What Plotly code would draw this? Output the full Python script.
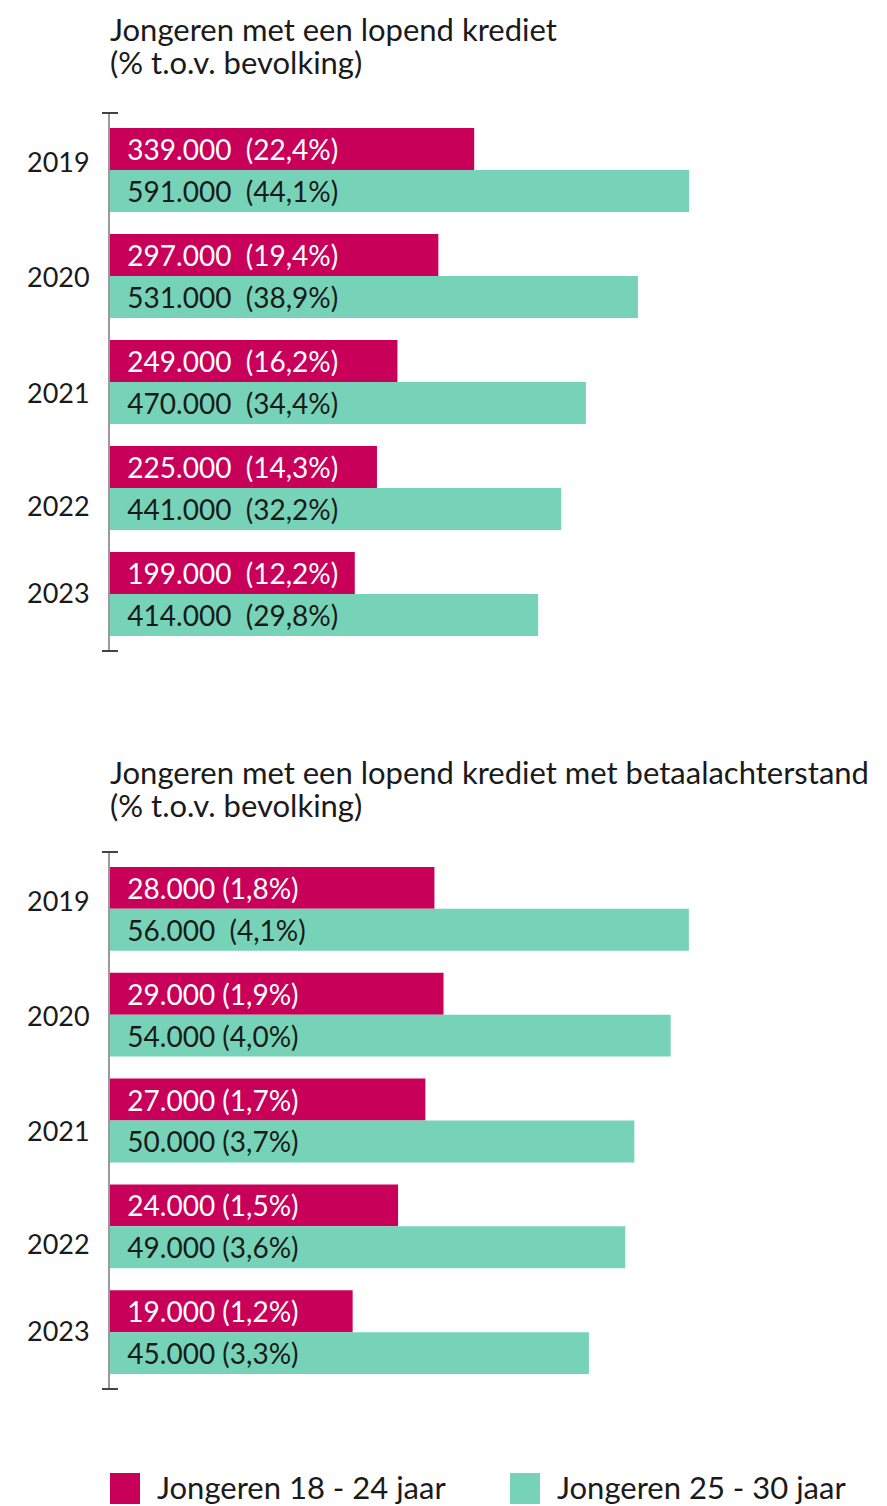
import plotly.graph_objects as go

# ---------------- data ----------------
YEARS = ["2019", "2020", "2021", "2022", "2023"]
SERIES_NAMES = ["Jongeren 18 - 24 jaar", "Jongeren 25 - 30 jaar"]

CREDIT_18_24 = [339000, 297000, 249000, 225000, 199000]
CREDIT_18_24_PCT = [22.4, 19.4, 16.2, 14.3, 12.2]
CREDIT_25_30 = [591000, 531000, 470000, 441000, 414000]
CREDIT_25_30_PCT = [44.1, 38.9, 34.4, 32.2, 29.8]

ARREARS_18_24 = [28000, 29000, 27000, 24000, 19000]
ARREARS_18_24_PCT = [1.8, 1.9, 1.7, 1.5, 1.2]
ARREARS_25_30 = [56000, 54000, 50000, 49000, 45000]
ARREARS_25_30_PCT = [4.1, 4.0, 3.7, 3.6, 3.3]

TITLE_1 = ["Jongeren met een lopend krediet", "(% t.o.v. bevolking)"]
TITLE_2 = ["Jongeren met een lopend krediet met betaalachterstand", "(% t.o.v. bevolking)"]

# ---------------- style ----------------
W, H = 887, 1506
PINK = "#C8005A"
TEAL = "#76D3B7"
FONT = "Lato"
TXT = "#1a1a1a"
AXIS_START_1, AXIS_END_1 = -88000, 823000
AXIS_START_2, AXIS_END_2 = -7700, 77800
PAD = "\u00a0\u00a0"
YEAR_LABEL_SHIFT = [8, -1, -10, -17, 2]


def fmt(v, p, sep):
    return PAD + f"{v:,}".replace(",", ".") + sep + f"({p:.1f}%)".replace(".", ",")


def px_y(py):
    return 1 - py / H


fig = go.Figure()

panels = [
    ("x", "y", AXIS_START_1,
     [(CREDIT_18_24, CREDIT_18_24_PCT, PINK, "white", ["\u00a0\u00a0"] * 5),
      (CREDIT_25_30, CREDIT_25_30_PCT, TEAL, TXT, ["\u00a0\u00a0"] * 5)]),
    ("x2", "y2", AXIS_START_2,
     [(ARREARS_18_24, ARREARS_18_24_PCT, PINK, "white", ["\u00a0"] * 5),
      (ARREARS_25_30, ARREARS_25_30_PCT, TEAL, TXT, ["\u00a0\u00a0"] + ["\u00a0"] * 4)]),
]

for xa, ya, base, series in panels:
    for i, (vals, pcts, color, tcol, seps) in enumerate(series):
        fig.add_trace(go.Bar(
            y=YEARS, x=[v - base for v in vals], base=base,
            orientation="h", name=SERIES_NAMES[i], showlegend=False,
            marker=dict(color=color, line=dict(width=0)),
            text=[fmt(v, p, s) for v, p, s in zip(vals, pcts, seps)],
            textposition="inside", insidetextanchor="start",
            constraintext="none", textangle=0,
            insidetextfont=dict(family=FONT, size=28, color=tcol),
            xaxis=xa, yaxis=ya, hoverinfo="skip",
        ))

xdom = [110 / W, 1.0]
common_x = dict(domain=xdom, showgrid=False, zeroline=False, showticklabels=False,
                ticks="", showline=False, fixedrange=True)
common_y = dict(type="category", showgrid=False, zeroline=False, ticks="",
                showline=True, linecolor="#9a9a9a", linewidth=2,
                showticklabels=False, range=[4.5375, -0.5375], fixedrange=True)

Y1_DOM = [px_y(651), px_y(113)]
Y2_DOM = [px_y(1389), px_y(852)]

fig.update_layout(
    width=W, height=H,
    margin=dict(l=0, r=0, t=0, b=0),
    paper_bgcolor="white", plot_bgcolor="white",
    barmode="group", bargap=0.2075, bargroupgap=0,
    showlegend=False,
    xaxis=dict(common_x, anchor="y", range=[AXIS_START_1, AXIS_END_1]),
    yaxis=dict(common_y, anchor="x", domain=Y1_DOM),
    xaxis2=dict(common_x, anchor="y2", range=[AXIS_START_2, AXIS_END_2]),
    yaxis2=dict(common_y, anchor="x2", domain=Y2_DOM),
)

# year labels (category axis: annotation positions are category indices)
for yref in ("y", "y2"):
    for idx, (yr, shift) in enumerate(zip(YEARS, YEAR_LABEL_SHIFT)):
        fig.add_annotation(text=yr, xref="paper", yref=yref, x=92 / W, y=idx,
                           xanchor="right", yanchor="middle", yshift=shift,
                           showarrow=False,
                           font=dict(family=FONT, size=27, color=TXT))

# axis end caps
for dom in (Y1_DOM, Y2_DOM):
    for yy in dom:
        fig.add_shape(type="line", xref="paper", yref="paper",
                      x0=102 / W, x1=118 / W, y0=yy, y1=yy,
                      line=dict(color="#444444", width=2))

# titles
for lines, mids in [(TITLE_1, (29, 62)), (TITLE_2, (772, 805))]:
    for line, mid in zip(lines, mids):
        fig.add_annotation(text=line, xref="paper", yref="paper", x=108 / W, y=px_y(mid),
                           xanchor="left", yanchor="middle", align="left", showarrow=False,
                           font=dict(family=FONT, size=31, color=TXT))

# legend
for name, color, x0 in [(SERIES_NAMES[0], PINK, 110), (SERIES_NAMES[1], TEAL, 510)]:
    fig.add_shape(type="rect", xref="paper", yref="paper",
                  x0=x0 / W, x1=(x0 + 30) / W, y0=px_y(1504), y1=px_y(1473),
                  fillcolor=color, line=dict(width=0))
    fig.add_annotation(text=name, xref="paper", yref="paper", x=(x0 + 45) / W,
                       y=px_y(1487), xanchor="left", yanchor="middle", showarrow=False,
                       font=dict(family=FONT, size=31, color=TXT))

fig.write_html("out.html", config={"displayModeBar": False},
               post_script="document.body.style.margin='0';")
